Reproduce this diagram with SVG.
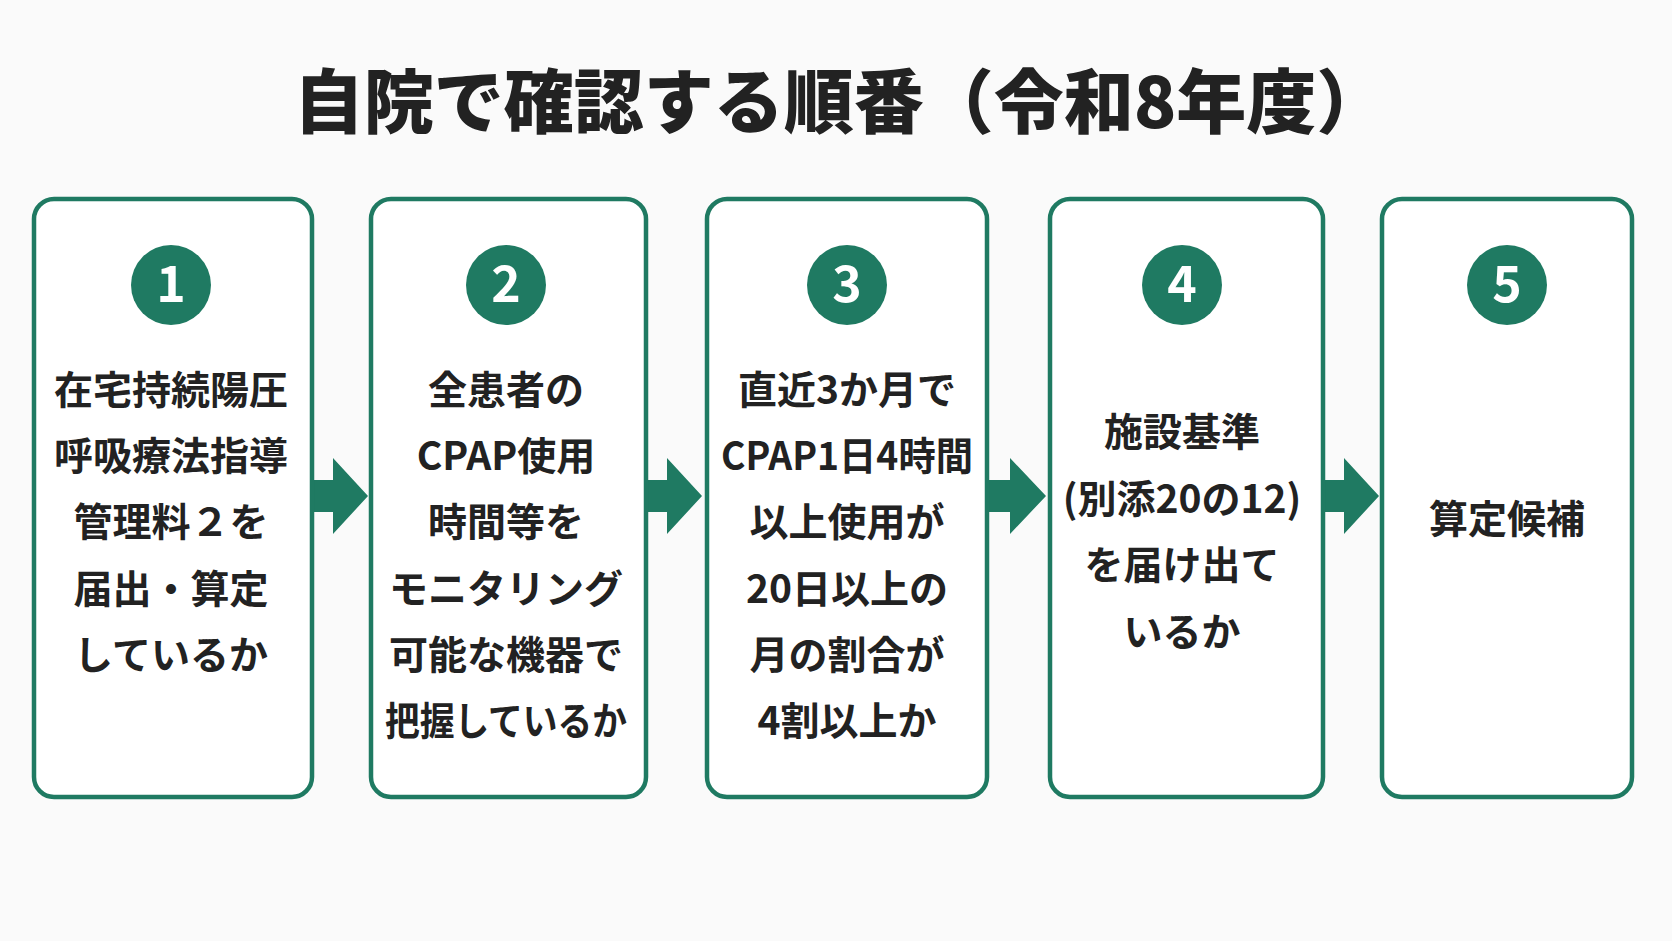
<svg xmlns="http://www.w3.org/2000/svg" width="1672" height="941" viewBox="0 0 1672 941">
<style>
.bx{fill:#fff;stroke:#1f7a62;stroke-width:4.5}
.c{fill:#1f7a62}
.n{font-family:"Noto Sans CJK JP","Noto Sans",sans-serif;font-weight:700;font-size:50px;fill:#fff;text-anchor:middle}
.t{font-family:"Noto Sans CJK JP",sans-serif;font-weight:700;font-size:39px;fill:#222;text-anchor:middle}
.ttl{font-family:"Noto Sans CJK JP",sans-serif;font-weight:900;font-size:70px;fill:#222;text-anchor:middle}
.ar{fill:#1f7a62}
</style>
<rect width="1672" height="941" fill="#fafafa"/>
<text class="ttl" x="840" y="128">自院で確認する順番（令和8年度）</text>
<g id="connectors">
<polygon class="ar" points="312,480 333,480 333,458 368,496 333,534 333,512 312,512"/>
<polygon class="ar" points="646,480 667,480 667,458 702,496 667,534 667,512 646,512"/>
<polygon class="ar" points="987,480 1010,480 1010,458 1046,496 1010,534 1010,512 987,512"/>
<polygon class="ar" points="1323,480 1344,480 1344,458 1379,496 1344,534 1344,512 1323,512"/>
</g>
<g id="n1"><rect class="bx" x="34" y="199" width="278" height="598" rx="20"/><circle class="c" cx="171" cy="285" r="40"/><text class="n" x="171" y="302">1</text>
<text class="t" x="171" y="404">在宅持続陽圧</text><text class="t" x="171" y="470">呼吸療法指導</text><text class="t" x="171" y="536">管理料２を</text><text class="t" x="171" y="603">届出・算定</text><text class="t" x="171" y="669">しているか</text></g>
<g id="n2"><rect class="bx" x="371" y="199" width="275" height="598" rx="20"/><circle class="c" cx="506" cy="285" r="40"/><text class="n" x="506" y="302">2</text>
<text class="t" x="506" y="404">全患者の</text><text class="t" x="506" y="470">CPAP使用</text><text class="t" x="506" y="536">時間等を</text><text class="t" x="506" y="603">モニタリング</text><text class="t" x="506" y="669">可能な機器で</text><text class="t" x="506" y="735" textLength="242" lengthAdjust="spacingAndGlyphs">把握しているか</text></g>
<g id="n3"><rect class="bx" x="707" y="199" width="280" height="598" rx="20"/><circle class="c" cx="847" cy="285" r="40"/><text class="n" x="847" y="302">3</text>
<text class="t" x="847" y="404">直近3か月で</text><text class="t" x="847" y="470" textLength="252" lengthAdjust="spacingAndGlyphs">CPAP1日4時間</text><text class="t" x="847" y="536">以上使用が</text><text class="t" x="847" y="603">20日以上の</text><text class="t" x="847" y="669">月の割合が</text><text class="t" x="847" y="735">4割以上か</text></g>
<g id="n4"><rect class="bx" x="1050" y="199" width="273" height="598" rx="20"/><circle class="c" cx="1182" cy="285" r="40"/><text class="n" x="1182" y="302">4</text>
<text class="t" x="1182" y="446">施設基準</text><text class="t" x="1182" y="513">(別添20の12)</text><text class="t" x="1182" y="579">を届け出て</text><text class="t" x="1182" y="646">いるか</text></g>
<g id="n5"><rect class="bx" x="1382" y="199" width="250" height="598" rx="20"/><circle class="c" cx="1507" cy="285" r="40"/><text class="n" x="1507" y="302">5</text>
<text class="t" x="1507" y="533">算定候補</text></g>
</svg>
